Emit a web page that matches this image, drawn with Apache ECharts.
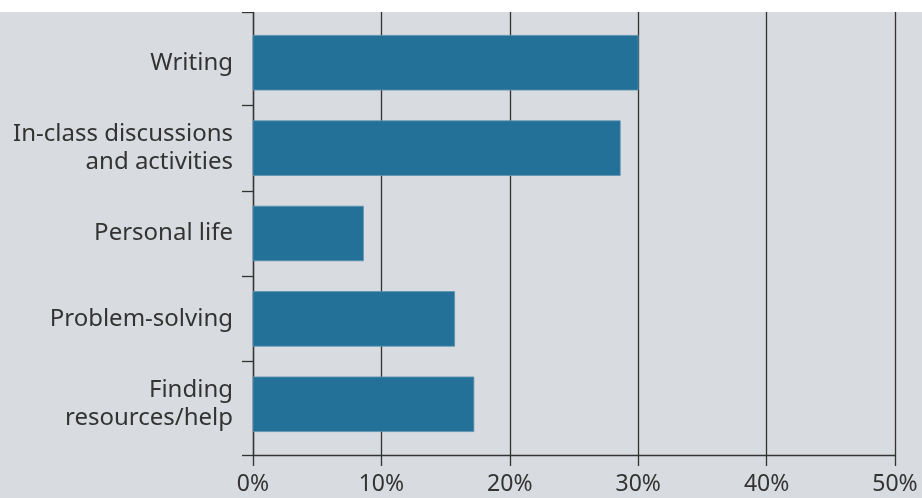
<!DOCTYPE html>
<html>
<head>
<meta charset="utf-8">
<script src="https://cdn.jsdelivr.net/npm/echarts@6/dist/echarts.min.js"></script>
<style>
  html, body { margin: 0; padding: 0; background: #ffffff; width: 922px; height: 498px; overflow: hidden; }
  #chart { position: absolute; left: 0; top: 12px; width: 922px; height: 486px; background: #d8dbdf; }
</style>
</head>
<body>
<div id="chart"></div>
<script>
// Data
const categories = ['Writing', 'In-class discussions\nand activities', 'Personal life', 'Problem-solving', 'Finding\nresources/help'];
const values = [30, 28.6, 8.6, 15.7, 17.2];
const xTicks = [0, 10, 20, 30, 40, 50];

const chart = echarts.init(document.getElementById('chart'), null, { renderer: 'canvas' });

const pad = 0.594; // extra space at both ends of the category axis
const positions = categories.map((c, i) => i);
const seriesData = values.map((v, i) => [v, positions[i]]);

const option = {
  backgroundColor: 'transparent',
  animation: false,
  grid: { left: 253, right: 27, top: 0, bottom: 43, containLabel: false },
  xAxis: {
    type: 'value',
    min: xTicks[0],
    max: xTicks[xTicks.length - 1],
    interval: 10,
    axisLine: { show: true, onZero: false, lineStyle: { color: '#333333', width: 1.3 } },
    axisTick: { show: true, inside: false, length: 11, lineStyle: { color: '#333333', width: 1.3 } },
    splitLine: { show: true, lineStyle: { color: '#333333', width: 1.3 } },
    axisLabel: {
      formatter: '{value}%',
      color: '#333333',
      fontFamily: 'Noto Sans',
      fontSize: 23,
      margin: 18
    }
  },
  yAxis: {
    type: 'value',
    inverse: true,
    min: -pad,
    max: positions.length - 1 + pad,
    axisLine: { show: true, onZero: false, lineStyle: { color: '#333333', width: 1.3 } },
    axisTick: {
      show: true,
      length: 11,
      customValues: [-pad, 0.5, 1.5, 2.5, 3.5, positions.length - 1 + pad],
      lineStyle: { color: '#333333', width: 1.3 }
    },
    splitLine: { show: false },
    axisLabel: {
      customValues: positions,
      formatter: function (v) { return categories[Math.round(v)] || ''; },
      color: '#333333',
      fontFamily: 'Noto Sans',
      fontSize: 24,
      lineHeight: 28,
      margin: 20,
      padding: [3, 0, 0, 0],
      align: 'right'
    }
  },
  series: [{
    type: 'custom',
    data: seriesData,
    encode: { x: 0, y: 1 },
    renderItem: function (params, api) {
      const v = api.value(0);
      const y = api.value(1);
      const start = api.coord([0, y]);
      const end = api.coord([v, y]);
      const h = api.size([0, 0.64])[1];
      return {
        type: 'rect',
        shape: { x: start[0], y: start[1] - h / 2, width: end[0] - start[0], height: h },
        style: { fill: '#237199', stroke: '#5d92b0', lineWidth: 0.8 }
      };
    }
  }]
};

chart.setOption(option);
</script>
</body>
</html>
